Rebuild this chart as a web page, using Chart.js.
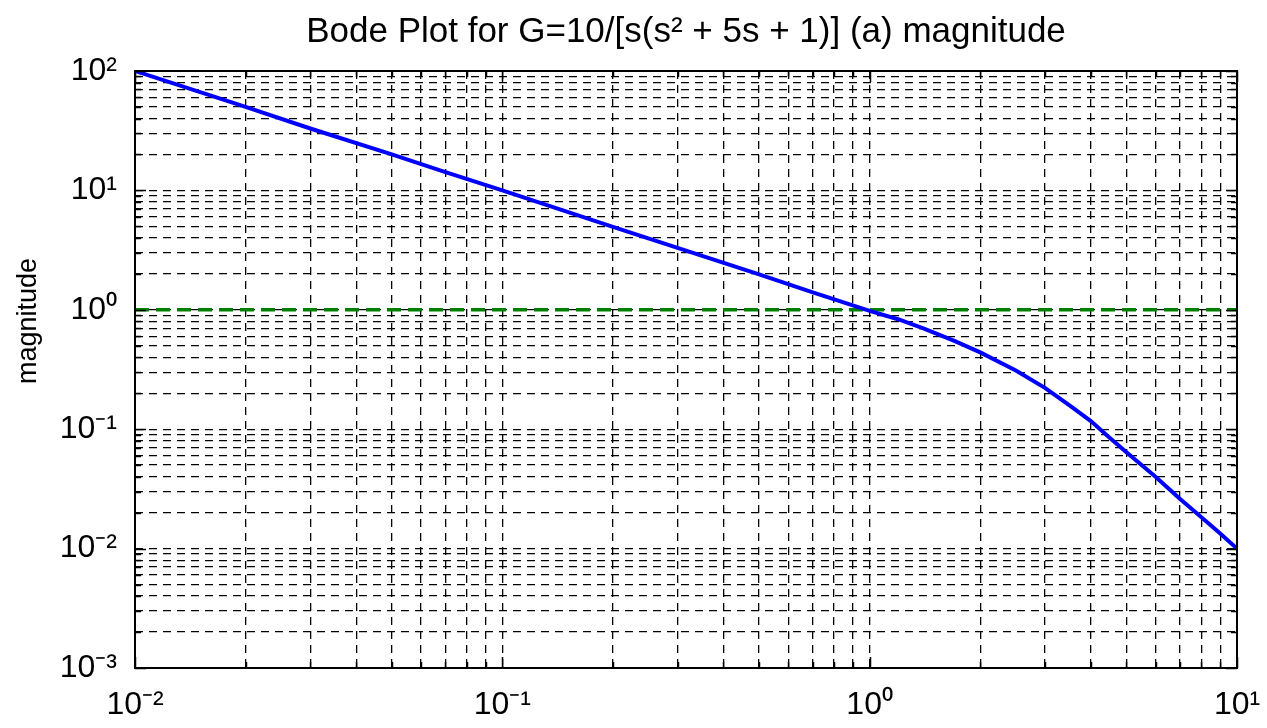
<!DOCTYPE html>
<html>
<head>
<meta charset="utf-8">
<script src="https://cdn.jsdelivr.net/npm/chart.js@4/dist/chart.umd.min.js"></script>
<style>
  html, body { margin: 0; padding: 0; background: #ffffff; }
  #wrap { width: 1267px; height: 728px; position: relative; }
</style>
</head>
<body>
<div id="wrap"><canvas id="c" width="1267" height="728"></canvas></div>
<script>
// ---- data ----
const freq = [0.01, 0.02, 0.03, 0.05, 0.07, 0.1, 0.2, 0.3, 0.5, 0.7, 1.0, 1.2, 1.4, 1.7, 2.0, 2.5, 3.0, 3.5, 4.0, 4.5, 5.0, 6.0, 7.0, 8.0, 9.0, 10];
const magnitude = [100, 50, 33, 20, 14.2, 10, 4.95, 3.3, 1.98, 1.4, 0.98, 0.83, 0.70, 0.55, 0.44, 0.31, 0.222, 0.158, 0.117, 0.085, 0.064, 0.040, 0.026, 0.0183, 0.0134, 0.0100];
const unityFreq = [0.01, 10];
const unityMag = [1, 1];
const xTickValues = [0.01, 0.1, 1, 10];
const xTickLabels = ['10\u207B\u00B2', '10\u207B\u00B9', '10\u2070', '10\u00B9'];
const yTickValues = [0.001, 0.01, 0.1, 1, 10, 100];
const yTickLabels = ['10\u207B\u00B3', '10\u207B\u00B2', '10\u207B\u00B9', '10\u2070', '10\u00B9', '10\u00B2'];
const titleText = 'Bode Plot for G=10/[s(s\u00B2 + 5s + 1)] (a) magnitude';
const yTitle = 'magnitude';

const FONT = "'Liberation Sans', Arial, sans-serif";

function logTicks(min, max) {
  const out = [];
  const e0 = Math.round(Math.log10(min)), e1 = Math.round(Math.log10(max));
  for (let e = e0; e <= e1; e++) {
    for (let m = 1; m <= 9; m++) {
      const v = parseFloat((m * Math.pow(10, e)).toPrecision(6));
      if (v >= min * 0.9999 && v <= max * 1.0001) out.push({ value: v });
    }
  }
  return out;
}
function labelFor(values, labels, v) {
  for (let i = 0; i < values.length; i++) {
    if (Math.abs(v - values[i]) / values[i] < 1e-6) return labels[i];
  }
  return '';
}

const boxPlugin = {
  id: 'boxPlugin',
  afterDatasetsDraw(chart) {
    const { ctx, chartArea: a, scales } = chart;
    ctx.save();
    ctx.strokeStyle = '#000';
    ctx.lineWidth = 1.5;
    ctx.setLineDash([]);
    ctx.beginPath();
    scales.x.ticks.forEach(t => {
      const px = Math.round(scales.x.getPixelForValue(t.value)) + 0.5;
      const major = labelFor(xTickValues, xTickLabels, t.value) !== '';
      const len = major ? 11 : 6;
      ctx.moveTo(px, a.bottom); ctx.lineTo(px, a.bottom - len);
      ctx.moveTo(px, a.top); ctx.lineTo(px, a.top + len);
    });
    scales.y.ticks.forEach(t => {
      const py = Math.round(scales.y.getPixelForValue(t.value)) + 0.5;
      const major = labelFor(yTickValues, yTickLabels, t.value) !== '';
      const len = major ? 11 : 6;
      ctx.moveTo(a.left, py); ctx.lineTo(a.left + len, py);
      ctx.moveTo(a.right, py); ctx.lineTo(a.right - len, py);
    });
    ctx.stroke();
    ctx.lineWidth = 2;
    ctx.strokeRect(a.left, a.top, a.right - a.left, a.bottom - a.top);
    // y-axis title (placed as in the reference, beside the 10^0 level)
    ctx.fillStyle = '#000';
    ctx.font = "27px " + FONT;
    ctx.translate(29, 321);
    ctx.rotate(-Math.PI / 2);
    ctx.textAlign = 'center';
    ctx.textBaseline = 'middle';
    ctx.fillText(yTitle, 0, 0);
    ctx.restore();
  }
};

new Chart(document.getElementById('c'), {
  type: 'line',
  data: {
    datasets: [
      {
        label: 'magnitude',
        data: freq.map((f, i) => ({ x: f, y: magnitude[i] })),
        borderColor: '#0000ff',
        borderWidth: 4,
        pointRadius: 0,
        tension: 0,
        fill: false
      },
      {
        label: 'unity',
        data: unityFreq.map((f, i) => ({ x: f, y: unityMag[i] })),
        borderColor: '#008000',
        borderWidth: 3.5,
        borderDash: [14, 7],
        pointRadius: 0,
        fill: false
      }
    ]
  },
  options: {
    responsive: false,
    animation: false,
    events: [],
    layout: { padding: { left: 0, right: 30, top: 0, bottom: 0 } },
    plugins: {
      legend: { display: false },
      tooltip: { enabled: false },
      title: {
        display: true,
        text: titleText,
        fullSize: false,
        color: '#000',
        font: { family: FONT, size: 35, weight: 'normal', lineHeight: 1.2 },
        padding: { top: 11, bottom: 18 }
      }
    },
    scales: {
      x: {
        type: 'logarithmic',
        min: 0.01,
        max: 10,
        afterBuildTicks: s => { s.ticks = logTicks(0.01, 10); },
        afterFit: s => { s.height = 60; s.paddingRight = 0; s.paddingLeft = 0; },
        grid: { color: '#000', lineWidth: 1.3, drawTicks: false },
        border: { display: false, dash: [8, 6] },
        ticks: {
          autoSkip: false,
          maxRotation: 0,
          padding: 18,
          color: '#000',
          font: { family: FONT, size: 32 },
          callback: v => labelFor(xTickValues, xTickLabels, v)
        }
      },
      y: {
        type: 'logarithmic',
        min: 0.001,
        max: 100,
        afterBuildTicks: s => { s.ticks = logTicks(0.001, 100); },
        afterFit: s => { s.width = 135; },
        grid: { color: '#000', lineWidth: 1.3, drawTicks: false },
        border: { display: false, dash: [8, 6] },
        ticks: {
          autoSkip: false,
          padding: 18,
          color: '#000',
          font: { family: FONT, size: 32 },
          callback: v => labelFor(yTickValues, yTickLabels, v)
        }
      }
    }
  },
  plugins: [boxPlugin]
});
</script>
</body>
</html>
